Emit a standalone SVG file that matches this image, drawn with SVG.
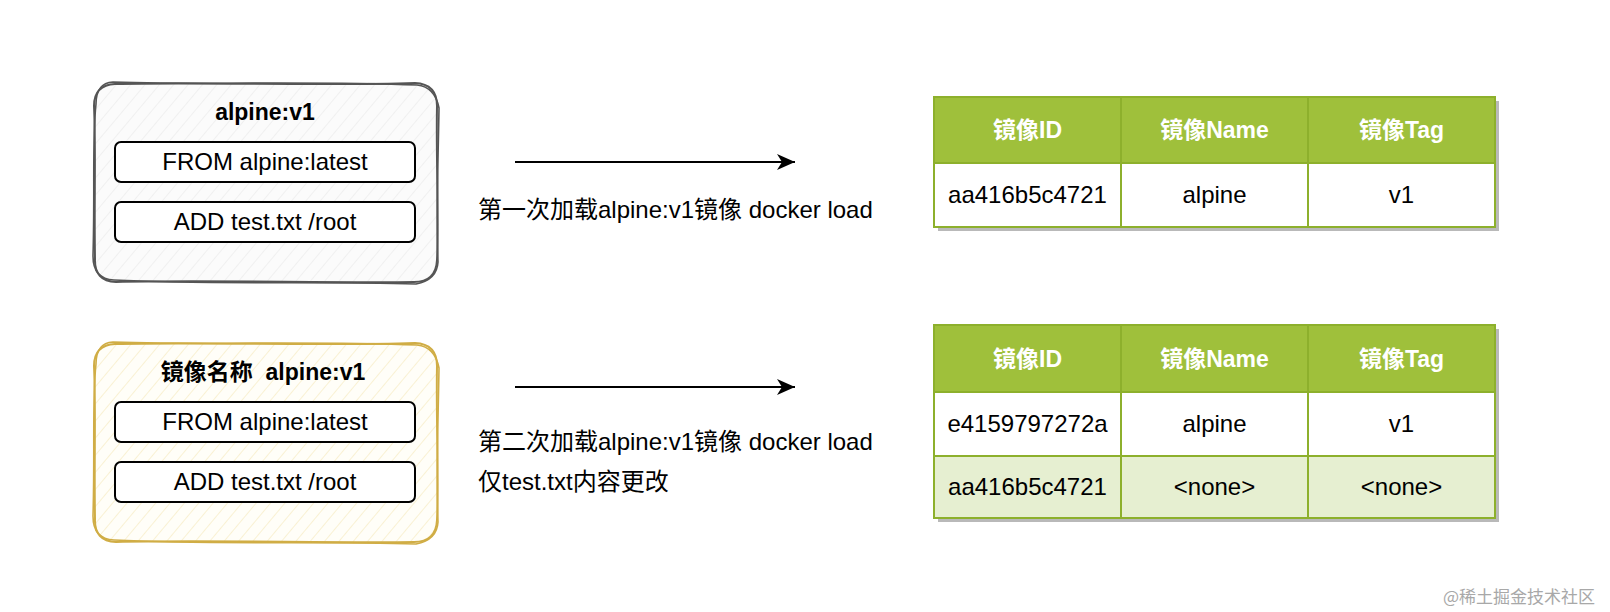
<svg xmlns="http://www.w3.org/2000/svg" xmlns:xlink="http://www.w3.org/1999/xlink" width="1610" height="612" viewBox="0 0 1610 612">
<style>
  text { font-family: "Liberation Sans", Arial, "Noto Sans CJK SC", sans-serif; fill: #000; }
  .t { font-size: 24px; text-anchor: middle; }
  .title { font-size: 23px; font-weight: bold; text-anchor: middle; }
  .lbl { font-size: 24px; }
  .hd { font-size: 23px; font-weight: bold; fill: #ffffff; text-anchor: middle; }
  .inner { fill: #ffffff; stroke: #000; stroke-width: 2; }
  .hdcell { fill: #9fc03b; stroke: #8db02c; stroke-width: 2; }
  .cell { fill: #ffffff; stroke: #8db02c; stroke-width: 2; }
  .cell2 { fill: #e6efd1; stroke: #8db02c; stroke-width: 2; }
  .shadow { fill: #b9b9b9; }
  .conn { stroke: #000; stroke-width: 2; fill: none; }
  .wm { font-size: 17px; fill: #a8a8a8; font-family: "Noto Sans CJK SC", "Liberation Sans", sans-serif; }
</style>
<defs>
  <pattern id="hatchGray" width="11" height="11" patternUnits="userSpaceOnUse" patternTransform="rotate(40)">
    <rect width="11" height="11" fill="#fbfbfb"/>
    <line x1="0" y1="0" x2="0" y2="11" stroke="#e6e6e6" stroke-width="1"/>
  </pattern>
  <pattern id="hatchYellow" width="11" height="11" patternUnits="userSpaceOnUse" patternTransform="rotate(40)">
    <rect width="11" height="11" fill="#fffef8"/>
    <line x1="0" y1="0" x2="0" y2="11" stroke="#f7ebbf" stroke-width="1.3"/>
  </pattern>
  <path id="sk1" d="M 115 84 C 200 82, 330 86, 415 83 Q 437 84, 437 106 C 436 160, 439 220, 437 260 Q 436 282, 414 282 C 330 283, 200 280, 116 282 Q 94 281, 95 259 C 94 200, 96 150, 94 106 Q 94 85, 115 84 Z"/>
  <path id="sk2" d="M 113 82 C 210 85, 320 81, 417 85 Q 435 87, 439 108 C 438 170, 436 210, 438 262 Q 437 280, 416 284 C 320 281, 210 285, 114 280 Q 93 279, 93 256 C 95 190, 92 140, 96 104 Q 96 83, 113 82 Z"/>
  <marker id="arr" markerWidth="20" markerHeight="18" refX="18" refY="8" orient="auto" markerUnits="userSpaceOnUse">
    <path d="M 0 0 L 18 8 L 0 16 L 5 8 Z" fill="#000"/>
  </marker>
</defs>

<rect width="1610" height="612" fill="#ffffff"/>

<g id="node-image-v1">
  <use xlink:href="#sk1" fill="url(#hatchGray)" stroke="none"/>
  <use xlink:href="#sk1" fill="none" stroke="#555555" stroke-width="2"/>
  <use xlink:href="#sk2" fill="none" stroke="#555555" stroke-width="1.6"/>
  <text class="title" x="265" y="120">alpine:v1</text>
  <rect class="inner" x="115" y="142" width="300" height="40" rx="6"/>
  <text class="t" x="265" y="170">FROM alpine:latest</text>
  <rect class="inner" x="115" y="202" width="300" height="40" rx="6"/>
  <text class="t" x="265" y="230">ADD test.txt /root</text>
</g>

<g id="node-image-v1-new" transform="translate(0,260)">
  <use xlink:href="#sk1" fill="url(#hatchYellow)" stroke="none"/>
  <use xlink:href="#sk1" fill="none" stroke="#d0ad45" stroke-width="2"/>
  <use xlink:href="#sk2" fill="none" stroke="#d0ad45" stroke-width="1.6"/>
  <text class="title" x="263" y="120" xml:space="preserve">镜像名称  alpine:v1</text>
  <rect class="inner" x="115" y="142" width="300" height="40" rx="6"/>
  <text class="t" x="265" y="170">FROM alpine:latest</text>
  <rect class="inner" x="115" y="202" width="300" height="40" rx="6"/>
  <text class="t" x="265" y="230">ADD test.txt /root</text>
</g>

<g id="connectors">
  <line class="conn" x1="515" y1="162" x2="795" y2="162" marker-end="url(#arr)"/>
  <line class="conn" x1="515" y1="387" x2="795" y2="387" marker-end="url(#arr)"/>
</g>

<g id="label-1">
  <text class="lbl" x="478" y="218">第一次加载alpine:v1镜像 docker load</text>
</g>
<g id="label-2">
  <text class="lbl" x="478" y="450">第二次加载alpine:v1镜像 docker load</text>
  <text class="lbl" x="478" y="490">仅test.txt内容更改</text>
</g>

<g id="table-1">
  <rect class="shadow" x="938" y="101" width="561" height="130"/>
  <rect class="hdcell" x="934" y="97" width="187" height="66"/>
  <rect class="hdcell" x="1121" y="97" width="187" height="66"/>
  <rect class="hdcell" x="1308" y="97" width="187" height="66"/>
  <rect class="cell" x="934" y="163" width="187" height="64"/>
  <rect class="cell" x="1121" y="163" width="187" height="64"/>
  <rect class="cell" x="1308" y="163" width="187" height="64"/>
  <text class="hd" x="1027.5" y="138">镜像ID</text>
  <text class="hd" x="1214.5" y="138">镜像Name</text>
  <text class="hd" x="1401.5" y="138">镜像Tag</text>
  <text class="t" x="1027.5" y="203">aa416b5c4721</text>
  <text class="t" x="1214.5" y="203">alpine</text>
  <text class="t" x="1401.5" y="203">v1</text>
</g>

<g id="table-2">
  <rect class="shadow" x="938" y="329" width="561" height="193"/>
  <rect class="hdcell" x="934" y="325" width="187" height="67"/>
  <rect class="hdcell" x="1121" y="325" width="187" height="67"/>
  <rect class="hdcell" x="1308" y="325" width="187" height="67"/>
  <rect class="cell" x="934" y="392" width="187" height="64"/>
  <rect class="cell" x="1121" y="392" width="187" height="64"/>
  <rect class="cell" x="1308" y="392" width="187" height="64"/>
  <rect class="cell2" x="934" y="456" width="187" height="62"/>
  <rect class="cell2" x="1121" y="456" width="187" height="62"/>
  <rect class="cell2" x="1308" y="456" width="187" height="62"/>
  <text class="hd" x="1027.5" y="367">镜像ID</text>
  <text class="hd" x="1214.5" y="367">镜像Name</text>
  <text class="hd" x="1401.5" y="367">镜像Tag</text>
  <text class="t" x="1027.5" y="432">e4159797272a</text>
  <text class="t" x="1214.5" y="432">alpine</text>
  <text class="t" x="1401.5" y="432">v1</text>
  <text class="t" x="1027.5" y="495">aa416b5c4721</text>
  <text class="t" x="1214.5" y="495">&lt;none&gt;</text>
  <text class="t" x="1401.5" y="495">&lt;none&gt;</text>
</g>

<text class="wm" x="1443" y="603">@稀土掘金技术社区</text>
</svg>
